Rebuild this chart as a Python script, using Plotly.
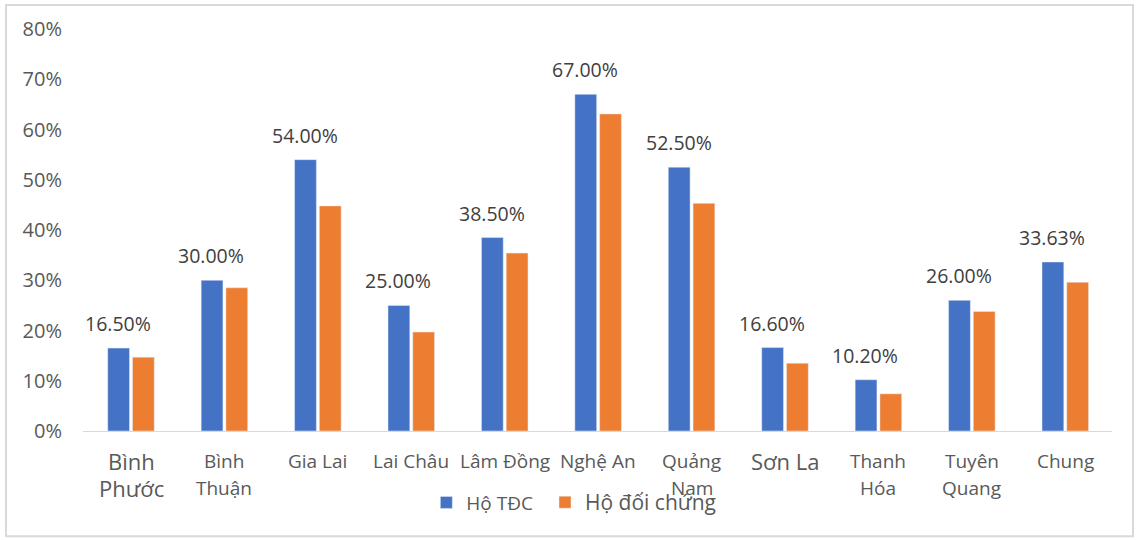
import plotly.graph_objects as go

categories = ["Bình<br>Phước", "Bình<br>Thuận", "Gia Lai", "Lai Châu", "Lâm Đồng", "Nghệ An",
              "Quảng<br>Nam", "Sơn La", "Thanh<br>Hóa", "Tuyên<br>Quang", "Chung"]
ho_tdc = [0.165, 0.30, 0.54, 0.25, 0.385, 0.67, 0.525, 0.166, 0.102, 0.26, 0.3363]
ho_doi_chung = [0.147, 0.285, 0.448, 0.197, 0.354, 0.631, 0.453, 0.135, 0.074, 0.238, 0.296]
series_names = ["Hộ TĐC", "Hộ đối chứng"]
big_label_cats = ["Bình<br>Phước", "Sơn La"]

BLUE = "#4472C4"
ORANGE = "#ED7D31"
FONT = "Open Sans"

fig = go.Figure()
fig.add_trace(go.Bar(x=categories, y=ho_tdc, name=series_names[0], marker_color=BLUE,
                     legend="legend", showlegend=True))
fig.add_trace(go.Bar(x=categories, y=ho_doi_chung, name=series_names[1], marker_color=ORANGE,
                     legend="legend2", showlegend=True))

annotations = []
# data labels over blue bars
for c, v in zip(categories, ho_tdc):
    annotations.append(dict(x=c, y=v, xref="x", yref="y", text=f"{v*100:.2f}%",
                            showarrow=False, xshift=-13, yshift=9, yanchor="bottom",
                            font=dict(family=FONT, size=19.5, color="#404040")))
# category labels
for c in categories:
    lines = c.split("<br>")
    size = 22 if c in big_label_cats else 19
    for i, line in enumerate(lines):
        annotations.append(dict(x=c, y=0, xref="x", yref="paper", text=line, showarrow=False,
                                yanchor="middle", yshift=-30 - 27 * i,
                                font=dict(family=FONT, size=size, color="#595959")))

fig.update_layout(
    width=1137, height=540,
    margin=dict(l=83, r=25, t=29, b=108.5),
    paper_bgcolor="white", plot_bgcolor="white",
    showlegend=True,
    barmode="group", bargap=0.47, bargroupgap=0.12,
    font=dict(family=FONT, color="#595959"),
    annotations=annotations,
    legend=dict(orientation="h", x=0.4425, xanchor="right", y=-0.178, yanchor="middle",
                font=dict(family=FONT, size=19, color="#595959"), bgcolor="rgba(0,0,0,0)"),
    legend2=dict(orientation="h", x=0.449, xanchor="left", y=-0.178, yanchor="middle",
                 font=dict(family=FONT, size=21, color="#595959"), bgcolor="rgba(0,0,0,0)"),
    shapes=[dict(type="rect", xref="paper", yref="paper", x0=-0.0748, x1=1.0204,
                 y0=-0.262, y1=1.0596, line=dict(color="#d9d9d9", width=2))],
)
fig.update_xaxes(showticklabels=False, showline=True, linecolor="#d9d9d9", linewidth=1,
                 ticks="", showgrid=False)
fig.update_yaxes(range=[0, 0.8], dtick=0.1, tickformat=".0%", showgrid=False, zeroline=False,
                 showline=False, ticklabelstandoff=20,
                 tickfont=dict(family=FONT, size=20, color="#595959"))

fig.write_html("out.html")
